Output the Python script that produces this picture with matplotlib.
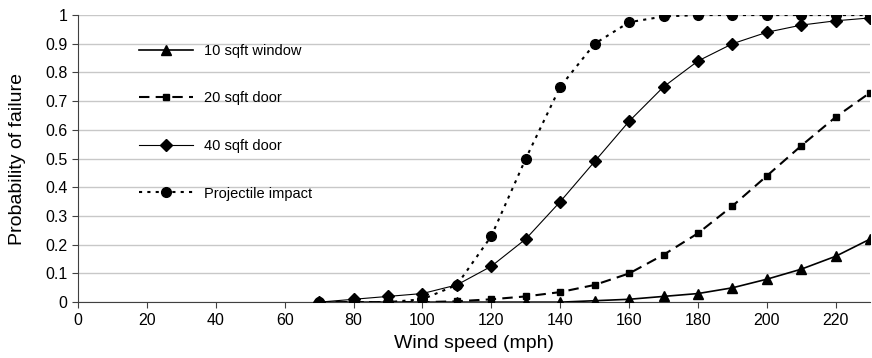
import numpy as np
import matplotlib.pyplot as plt
from matplotlib.ticker import FormatStrFormatter

plt.rcParams['font.family'] = ['Liberation Sans', 'DejaVu Sans']

# Data
wind_speed = [70, 80, 90, 100, 110, 120, 130, 140, 150, 160, 170, 180, 190, 200, 210, 220, 230]
window_10 = [0, 0, 0, 0, 0, 0, 0, 0, 0.005, 0.01, 0.02, 0.03, 0.05, 0.08, 0.115, 0.16, 0.22]
door_20 = [0, 0, 0, 0, 0.003, 0.01, 0.02, 0.035, 0.06, 0.10, 0.165, 0.24, 0.335, 0.44, 0.545, 0.645, 0.73]
door_40 = [0, 0.01, 0.02, 0.03, 0.06, 0.125, 0.22, 0.35, 0.49, 0.63, 0.75, 0.84, 0.90, 0.94, 0.965, 0.98, 0.99]
projectile = [0, 0, 0, 0.01, 0.06, 0.23, 0.50, 0.75, 0.90, 0.975, 0.995, 1.0, 1.0, 1.0, 1.0, 1.0, 1.0]

fig = plt.figure(figsize=(8.72, 3.58), dpi=100)
ax = fig.add_axes([0.0894, 0.156, 0.9086, 0.802])

ax.plot(wind_speed, window_10, color='black', lw=1.2, marker='^', markersize=7,
        label='10 sqft window', zorder=4)
ax.plot(wind_speed, door_20, color='black', lw=1.5, ls=(0, (5, 3)), marker='s', markersize=4,
        label='20 sqft door', zorder=4)
ax.plot(wind_speed, door_40, color='black', lw=0.8, marker='D', markersize=6,
        label='40 sqft door', zorder=4)
ax.plot(wind_speed, projectile, color='black', lw=1.5, ls=(0, (1.5, 2.5)), marker='o', markersize=7,
        label='Projectile impact', zorder=4)

ax.set_xlim(0, 230)
ax.set_ylim(0, 1)
ax.set_xticks(np.arange(0, 221, 20))
ax.set_yticks(np.arange(0, 1.01, 0.1))
ax.yaxis.set_major_formatter(FormatStrFormatter('%g'))
ax.grid(axis='y', color='#c8c8c8', lw=1)
ax.set_axisbelow(True)

for side in ['top', 'right']:
    ax.spines[side].set_visible(False)
for side in ['left', 'bottom']:
    ax.spines[side].set_color('#404040')
ax.tick_params(axis='both', labelsize=11.5, color='#404040', length=4)

ax.set_xlabel('Wind speed (mph)', fontsize=14, labelpad=5)
ax.set_ylabel('Probability of failure', fontsize=14, labelpad=14)

ax.legend(loc='upper left', bbox_to_anchor=(0.06, 0.945), frameon=False, fontsize=10.5,
          handlelength=3.7, labelspacing=2.3)

fig.savefig('out.png', dpi=100)
